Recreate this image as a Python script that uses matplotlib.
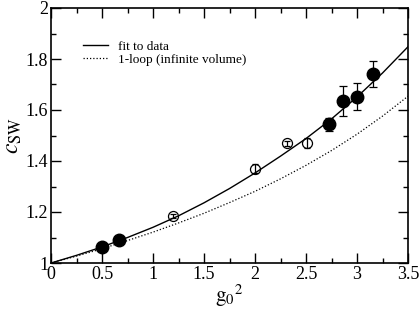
import numpy as np
import matplotlib
matplotlib.use("Agg")
import matplotlib.pyplot as plt
from matplotlib.ticker import MultipleLocator, FormatStrFormatter

plt.rcParams['font.family'] = ['Liberation Serif', 'DejaVu Serif']
plt.rcParams['mathtext.fontset'] = 'stix'

# filled symbols
g2_filled = [0.50, 0.67, 2.73, 2.86, 3.00, 3.16]
csw_filled = [1.061, 1.091, 1.544, 1.636, 1.652, 1.742]
err_filled = [0.003, 0.004, 0.026, 0.059, 0.052, 0.052]

# open symbols
g2_open = [1.20, 2.00, 2.31, 2.51]
csw_open = [1.185, 1.370, 1.469, 1.472]
err_open = [0.007, 0.018, 0.010, 0.020]

# curves
g2_curve = [0.0, 0.25, 0.5, 0.75, 1.0, 1.25, 1.5, 1.75, 2.0, 2.25, 2.5, 2.75, 3.0, 3.25, 3.5]
csw_fit = [1.000, 1.030, 1.063, 1.100, 1.140, 1.185, 1.236, 1.292, 1.353, 1.419,
           1.488, 1.565, 1.651, 1.745, 1.848]
csw_1loop = [1.000, 1.027, 1.056, 1.088, 1.121, 1.157, 1.195, 1.237, 1.281, 1.330,
             1.383, 1.441, 1.505, 1.576, 1.654]

fig = plt.figure(figsize=(4.2, 3.19), dpi=100)
ax = fig.add_axes([51/420, 1 - 263/319, 357/420, 255/319])

ax.plot(g2_curve, csw_fit, color='black', lw=1.0, label='fit to data')
ax.plot(g2_curve, csw_1loop, color='black', lw=0.9, linestyle=(0, (1, 1.6)),
        label='1-loop (infinite volume)')

# open circles: no face so the error bar shows through
ax.errorbar(g2_open, csw_open, yerr=err_open, fmt='o', ms=7.2, mfc='none',
            mec='black', mew=0.9, ecolor='black', elinewidth=0.9, capsize=2.5,
            capthick=0.9, zorder=3)
ax.errorbar(g2_filled, csw_filled, yerr=err_filled, fmt='o', ms=9, mfc='black',
            mec='black', ecolor='black', elinewidth=0.9, capsize=3,
            capthick=0.9, zorder=4)

ax.set_xlim(0, 3.5)
ax.set_ylim(1, 2)
ax.xaxis.set_major_locator(MultipleLocator(0.5))
ax.xaxis.set_minor_locator(MultipleLocator(0.25))
ax.yaxis.set_major_locator(MultipleLocator(0.2))
ax.yaxis.set_minor_locator(MultipleLocator(0.1))
ax.xaxis.set_major_formatter(FormatStrFormatter('%g'))
ax.yaxis.set_major_formatter(FormatStrFormatter('%g'))
ax.tick_params(which='both', direction='in', top=True, right=True, width=1.0,
               labelsize=13, pad=2)
ax.tick_params(which='major', length=7.5)
ax.tick_params(which='minor', length=3.8)
for s in ax.spines.values():
    s.set_linewidth(1.2)

ax.set_xlabel(r'$\mathrm{g_0}^{2}$', fontsize=15, labelpad=0)
ax.set_ylabel(r'$c_{\rm SW}$', fontsize=17, labelpad=1)

ax.legend(loc='upper left', bbox_to_anchor=(0.055, 0.92), frameon=False,
          fontsize=9.5, handlelength=1.9, handletextpad=0.8, labelspacing=0.1)

fig.savefig('out.png', dpi=100)
